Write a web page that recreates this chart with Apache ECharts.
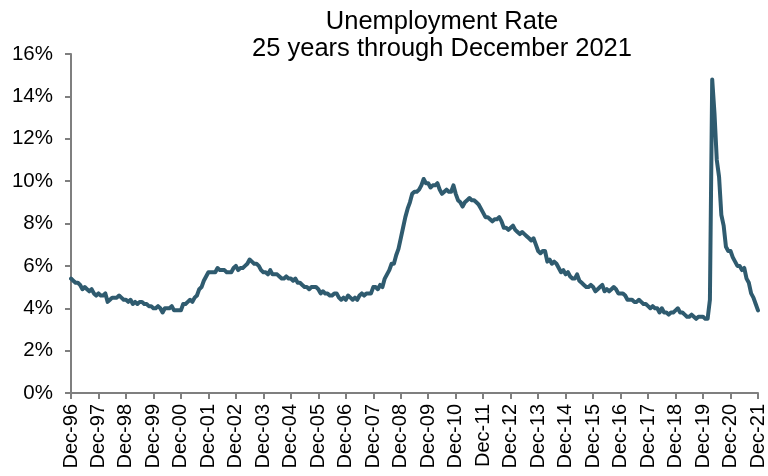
<!DOCTYPE html>
<html>
<head>
<meta charset="utf-8">
<script src="https://cdn.jsdelivr.net/npm/echarts@6/dist/echarts.min.js"></script>
<style>html,body{margin:0;padding:0;background:#fff;}#c{width:768px;height:476px;}</style>
</head>
<body>
<div id="c"></div>
<script>
// Monthly unemployment rate (%), Dec 1996 .. Dec 2021
const rate1996 = [5.4];
const rate1997_2001 = [
  5.3,5.2,5.2,5.1,4.9,5.0,4.9,4.8,4.9,4.7,4.6,4.7,
  4.6,4.6,4.7,4.3,4.4,4.5,4.5,4.5,4.6,4.5,4.4,4.4,
  4.3,4.4,4.2,4.3,4.2,4.3,4.3,4.2,4.2,4.1,4.1,4.0,
  4.0,4.1,4.0,3.8,4.0,4.0,4.0,4.1,3.9,3.9,3.9,3.9,
  4.2,4.2,4.3,4.4,4.3,4.5,4.6,4.9,5.0,5.3,5.5,5.7
];
const rate2002_2006 = [
  5.7,5.7,5.7,5.9,5.8,5.8,5.8,5.7,5.7,5.7,5.9,6.0,
  5.8,5.9,5.9,6.0,6.1,6.3,6.2,6.1,6.1,6.0,5.8,5.7,
  5.7,5.6,5.8,5.6,5.6,5.6,5.5,5.4,5.4,5.5,5.4,5.4,
  5.3,5.4,5.2,5.2,5.1,5.0,5.0,4.9,5.0,5.0,5.0,4.9,
  4.7,4.8,4.7,4.7,4.6,4.6,4.7,4.7,4.5,4.4,4.5,4.4
];
const rate2007_2011 = [
  4.6,4.5,4.4,4.5,4.4,4.6,4.7,4.6,4.7,4.7,4.7,5.0,
  5.0,4.9,5.1,5.0,5.4,5.6,5.8,6.1,6.1,6.5,6.8,7.3,
  7.8,8.3,8.7,9.0,9.4,9.5,9.5,9.6,9.8,10.1,9.9,9.9,
  9.7,9.8,9.8,9.9,9.6,9.4,9.5,9.6,9.5,9.5,9.8,9.4,
  9.1,9.0,8.8,9.0,9.1,9.2,9.1,9.1,9.0,8.9,8.7,8.5
];
const rate2012_2016 = [
  8.3,8.3,8.2,8.1,8.2,8.2,8.3,8.1,7.8,7.8,7.7,7.8,
  7.9,7.7,7.6,7.5,7.6,7.5,7.4,7.3,7.2,7.3,7.0,6.7,
  6.6,6.7,6.7,6.2,6.3,6.1,6.2,6.1,5.9,5.7,5.8,5.6,
  5.7,5.5,5.4,5.4,5.6,5.3,5.2,5.1,5.0,5.0,5.1,5.0,
  4.8,4.9,5.0,5.1,4.8,4.9,4.8,4.9,5.0,4.9,4.7,4.7
];
const rate2017_2021 = [
  4.7,4.6,4.4,4.4,4.4,4.3,4.3,4.4,4.3,4.2,4.2,4.1,
  4.0,4.1,4.0,4.0,3.8,4.0,3.8,3.8,3.7,3.8,3.8,3.9,
  4.0,3.8,3.8,3.7,3.6,3.6,3.7,3.6,3.5,3.6,3.6,3.6,
  3.5,3.5,4.4,14.8,13.2,11.0,10.2,8.4,7.9,6.9,6.7,6.7,
  6.4,6.2,6.0,6.0,5.8,5.9,5.4,5.2,4.7,4.5,4.2,3.9
];
const monthNames = ['Jan','Feb','Mar','Apr','May','Jun','Jul','Aug','Sep','Oct','Nov','Dec'];
const startYear = 1996, startMonth = 11; // Dec-96
const yTicks = [0,2,4,6,8,10,12,14,16];
const titleLines = ['Unemployment Rate','25 years through December 2021'];

const values = [].concat(rate1996, rate1997_2001, rate2002_2006, rate2007_2011, rate2012_2016, rate2017_2021);
const categories = values.map((v, i) => {
  const m = startMonth + i;
  const yr = startYear + Math.floor(m / 12);
  return monthNames[m % 12] + '-' + String(yr % 100).padStart(2, '0');
});

const chart = echarts.init(document.getElementById('c'), null, {renderer: 'canvas'});
const axisGray = '#7f7f7f';
chart.setOption({
  animation: false,
  backgroundColor: '#ffffff',
  title: {
    text: titleLines.join('\n'),
    left: 437, top: 3, textAlign: 'center',
    textStyle: {fontFamily: 'Liberation Sans', fontSize: 25.5, fontWeight: 'normal', color: '#000', lineHeight: 27.5}
  },
  grid: {left: 71, right: 8, top: 54, bottom: 83, containLabel: false},
  xAxis: {
    type: 'category',
    data: categories,
    boundaryGap: false,
    axisLine: {lineStyle: {color: axisGray, width: 2}},
    axisTick: {show: true, interval: (i) => i % 12 === 0, length: 6, lineStyle: {color: axisGray, width: 2}},
    axisLabel: {
      interval: (i) => i % 12 === 0, rotate: 90, margin: 11, hideOverlap: false,
      fontFamily: 'Liberation Sans', fontSize: 20, color: '#000'
    },
    splitLine: {show: false}
  },
  yAxis: {
    type: 'value', min: yTicks[0], max: yTicks[yTicks.length - 1], interval: 2,
    axisLine: {show: true, lineStyle: {color: axisGray, width: 2}},
    axisTick: {show: true, length: 6, lineStyle: {color: axisGray, width: 2}},
    axisLabel: {formatter: '{value}%', margin: 18, fontFamily: 'Liberation Sans', fontSize: 20.5, color: '#000'},
    splitLine: {show: false}
  },
  series: [{
    type: 'line',
    data: values,
    symbol: 'none',
    lineStyle: {color: '#2f5b6f', width: 4, join: 'round', cap: 'round'}
  }]
});
</script>
</body>
</html>
